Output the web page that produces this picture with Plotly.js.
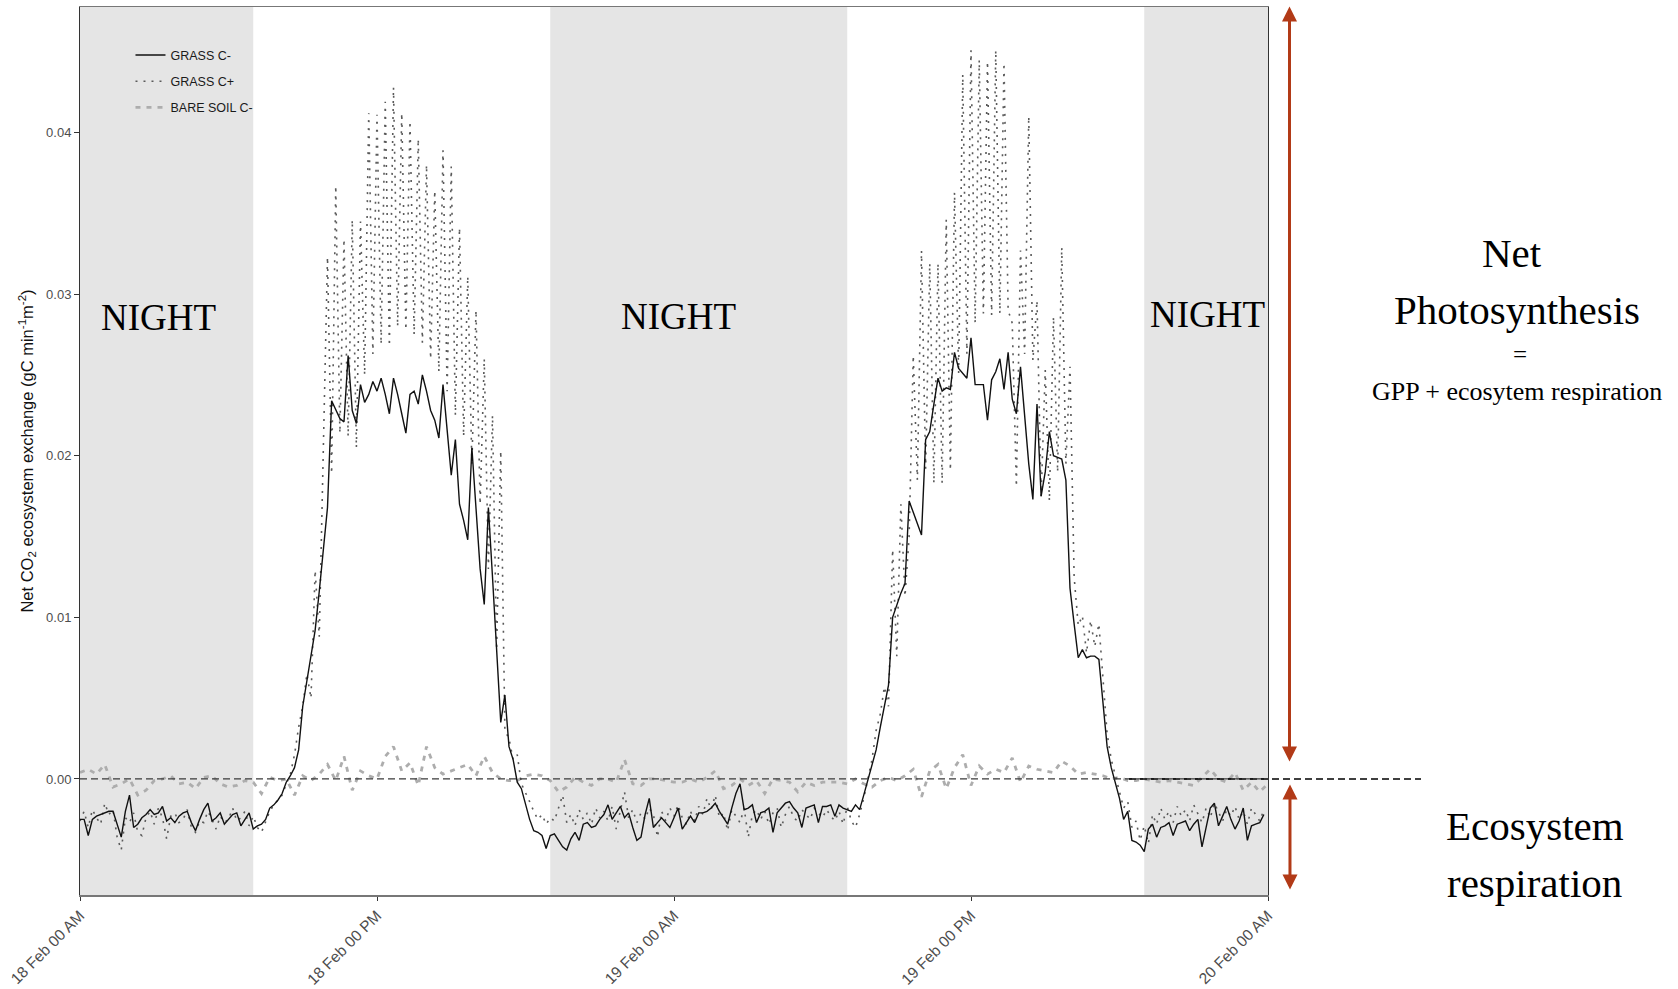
<!DOCTYPE html>
<html><head><meta charset="utf-8">
<script src="https://cdn.plot.ly/plotly-3.0.1.min.js"></script>
<style>html,body{margin:0;padding:0;background:#fff}#chart{width:1678px;height:989px}</style>
</head><body><div id="chart"></div>
<script>
// Time axis: minutes after 18 Feb 00:00. Grass chambers sampled every 10 min, bare soil every 20 min.
const grassStartMinute = 0;
const grassStepMinutes = 10;
const bareStartMinute = 0;
const bareStepMinutes = 20;

const grassCminus = [
-0.0025,-0.0025,-0.0035,-0.0025,-0.0023,-0.0022,-0.0021,-0.0020,-0.0020,-0.0028,
-0.0036,-0.0020,-0.0010,-0.0030,-0.0028,-0.0024,-0.0022,-0.0019,-0.0022,-0.0021,
-0.0017,-0.0026,-0.0024,-0.0027,-0.0023,-0.0021,-0.0020,-0.0027,-0.0032,-0.0025,
-0.0019,-0.0015,-0.0026,-0.0024,-0.0021,-0.0028,-0.0025,-0.0022,-0.0021,-0.0029,
-0.0025,-0.0021,-0.0031,
-0.0029,-0.0028,-0.0025,-0.0018,-0.0016,-0.0013,-0.0009,-0.0002,0.0002,0.0007,
0.0018,0.0045,0.0060,0.0075,0.0092,0.0116,0.0140,0.0168,0.0234,0.0228,
0.0223,0.0221,0.0262,0.0228,0.0220,0.0244,0.0233,0.0238,0.0246,0.0240,
0.0248,0.0238,0.0226,0.0248,0.0238,0.0226,0.0214,0.0238,0.0240,0.0232,
0.0250,0.0240,0.0228,0.0222,0.0211,0.0244,0.0215,0.0188,0.0210,0.0170,
0.0160,0.0148,0.0205,0.0165,0.0130,0.0108,0.0168,0.0125,0.0078,0.0035,
0.0052,0.0020,0.0012,-0.0002,-0.0006,-0.0015,-0.0025,-0.0032,-0.0033,-0.0035,
-0.0043,
-0.0035,-0.0034,-0.0038,-0.0042,-0.0044,-0.0037,-0.0033,-0.0038,-0.0028,-0.0027,
-0.0030,-0.0029,-0.0025,-0.0022,-0.0016,-0.0025,-0.0021,-0.0017,-0.0024,-0.0021,
-0.0030,-0.0038,-0.0036,-0.0022,-0.0012,-0.0030,-0.0027,-0.0024,-0.0027,-0.0030,
-0.0024,-0.0018,-0.0031,-0.0027,-0.0023,-0.0027,-0.0021,-0.0021,-0.0020,-0.0018,
-0.0015,-0.0020,-0.0024,-0.0028,-0.0018,-0.0009,-0.0003,-0.0019,-0.0018,-0.0016,
-0.0027,-0.0021,-0.0020,-0.0018,-0.0033,-0.0021,-0.0018,-0.0015,-0.0014,-0.0018,
-0.0021,-0.0030,-0.0018,-0.0017,-0.0016,-0.0027,-0.0017,-0.0017,-0.0016,-0.0023,
-0.0016,-0.0018,-0.0019,-0.0020,-0.0016,-0.0019,-0.0010,
-0.0001,0.0008,0.0018,0.0032,0.0045,0.0058,0.0100,0.0108,0.0115,0.0121,
0.0172,0.0165,0.0158,0.0151,0.0210,0.0215,0.0232,0.0248,0.0240,0.0242,
0.0241,0.0264,0.0254,0.0251,0.0248,0.0273,0.0244,0.0244,0.0244,0.0222,
0.0247,0.0252,0.0260,0.0241,0.0264,0.0235,0.0226,0.0255,0.0225,0.0195,
0.0173,0.0232,0.0175,0.0190,0.0215,0.0200,0.0199,0.0198,0.0185,0.0118,
0.0096,0.0075,0.0080,0.0075,0.0076,0.0076,0.0074,0.0045,0.0020,0.0007,
-0.0002,-0.0012,-0.0025,-0.0020,-0.0038,-0.0039,-0.0041,-0.0045,
-0.0031,-0.0028,-0.0036,-0.0030,-0.0029,-0.0027,-0.0035,-0.0028,-0.0027,-0.0026,
-0.0032,-0.0028,-0.0025,-0.0042,-0.0030,-0.0018,-0.0015,-0.0029,-0.0023,-0.0017,
-0.0025,-0.0031,-0.0026,-0.0018,-0.0038,-0.0029,-0.0028,-0.0027,-0.0022
];

const grassCplus = [
-0.0026,-0.0020,-0.0030,-0.0019,-0.0024,-0.0028,-0.0015,-0.0022,-0.0019,-0.0036,
-0.0044,-0.0024,-0.0027,-0.0021,-0.0033,-0.0035,-0.0024,-0.0020,-0.0028,-0.0018,
-0.0024,-0.0037,-0.0023,-0.0021,-0.0027,-0.0025,-0.0019,-0.0030,-0.0033,-0.0026,
-0.0027,-0.0020,-0.0025,-0.0031,-0.0023,-0.0027,-0.0025,-0.0018,-0.0026,-0.0024,
-0.0020,-0.0029,-0.0023,
-0.0030,-0.0033,-0.0027,-0.0020,-0.0016,-0.0013,-0.0010,-0.0003,0.0003,0.0015,
0.0032,0.0045,0.0065,0.0050,0.0129,0.0088,0.0197,0.0323,0.0189,0.0367,
0.0214,0.0334,0.0212,0.0346,0.0205,0.0345,0.0250,0.0412,0.0263,0.0411,
0.0269,0.0419,0.0268,0.0428,0.0280,0.0412,0.0278,0.0407,0.0275,0.0396,
0.0270,0.0380,0.0260,0.0364,0.0252,0.0389,0.0240,0.0379,0.0225,0.0341,
0.0212,0.0311,0.0195,0.0290,0.0170,0.0260,0.0130,0.0225,0.0080,0.0203,
0.0030,0.0025,0.0012,0.0015,-0.0003,-0.0008,-0.0014,-0.0020,-0.0025,-0.0022,
-0.0028,
-0.0024,-0.0026,-0.0018,-0.0010,-0.0027,-0.0022,-0.0029,-0.0019,-0.0025,-0.0021,
-0.0028,-0.0018,-0.0024,-0.0020,-0.0026,-0.0017,-0.0031,-0.0020,-0.0008,-0.0024,
-0.0019,-0.0027,-0.0021,-0.0025,-0.0018,-0.0022,-0.0036,-0.0020,-0.0026,-0.0018,
-0.0023,-0.0016,-0.0024,-0.0028,-0.0020,-0.0026,-0.0017,-0.0022,-0.0012,-0.0019,
-0.0010,-0.0024,-0.0021,-0.0032,-0.0019,-0.0023,-0.0027,-0.0018,-0.0036,-0.0022,
-0.0019,-0.0025,-0.0020,-0.0028,-0.0021,-0.0018,-0.0030,-0.0022,-0.0017,-0.0024,
-0.0026,-0.0019,-0.0022,-0.0025,-0.0018,-0.0021,-0.0024,-0.0019,-0.0023,-0.0026,
-0.0020,-0.0028,-0.0017,-0.0026,-0.0030,-0.0022,-0.0012,
0.0000,0.0012,0.0030,0.0040,0.0057,0.0045,0.0142,0.0076,0.0170,0.0113,
0.0150,0.0262,0.0185,0.0327,0.0192,0.0319,0.0183,0.0319,0.0183,0.0346,
0.0191,0.0363,0.0251,0.0436,0.0263,0.0451,0.0282,0.0445,0.0288,0.0444,
0.0287,0.0451,0.0288,0.0443,0.0290,0.0282,0.0181,0.0327,0.0263,0.0410,
0.0259,0.0296,0.0175,0.0253,0.0172,0.0286,0.0190,0.0329,0.0195,0.0255,
0.0125,0.0095,0.0101,0.0078,0.0098,0.0082,0.0096,0.0060,0.0028,0.0012,
0.0002,-0.0008,-0.0018,-0.0014,-0.0030,-0.0026,-0.0038,-0.0029,
-0.0040,-0.0022,-0.0028,-0.0018,-0.0025,-0.0020,-0.0027,-0.0017,-0.0023,-0.0019,
-0.0026,-0.0016,-0.0022,-0.0027,-0.0018,-0.0024,-0.0015,-0.0021,-0.0026,-0.0019,
-0.0023,-0.0017,-0.0025,-0.0020,-0.0028,-0.0018,-0.0022,-0.0026,-0.0019
];

const bareSoilCminus = [
0.0004,0.0006,0.0003,0.0009,-0.0005,-0.0003,0,-0.0010,-0.0007,-0.0001,
0,0.0002,-0.0003,-0.0002,-0.0006,0.0001,0.0002,-0.0003,-0.0005,-0.0004,
-0.0001,-0.0002,-0.0009,0.0001,-0.0001,0,-0.0010,0.0002,-0.0001,0.0003,
0.0009,-0.0001,0.0014,-0.0007,0.0005,0.0002,0,0.0014,0.0020,0.0005,
0.0010,-0.0004,0.0020,0.0007,0.0003,0.0005,0.0007,0.0009,0.0002,0.0014,
0.0004,0,-0.0001,-0.0001,0.0002,0.0003,0.0002,
-0.0001,-0.0008,-0.0005,0.0001,-0.0002,-0.0004,0,0,-0.0002,0.0012,
-0.0003,-0.0004,0,0,-0.0001,-0.0002,-0.0002,0,-0.0002,0.0001,
0.0005,-0.0006,-0.0004,0,-0.0004,-0.0001,-0.0009,0,-0.0001,-0.0002,
-0.0008,-0.0002,-0.0004,-0.0002,-0.0002,-0.0002,-0.0003,0,-0.0003,-0.0005,
-0.0001,0.0001,-0.0001,0.0002,0.0006,-0.0011,0.0005,0.0009,-0.0006,0.0007,
0.0015,-0.0004,0.0008,0.0003,0.0006,0.0004,0.0013,-0.0002,0.0008,0.0006,
0.0005,0.0004,0.0011,0.0008,0.0003,0.0004,0.0003,0.0002,0,0.0001,
-0.0001,-0.0001,0,-0.0001,-0.0002,-0.0001,-0.0002,-0.0003,-0.0004,0.0001,
0.0006,0,-0.0002,0.0004,-0.0007,-0.0002,-0.0008,-0.0003
];

const seriesNames = ['GRASS C-', 'GRASS C+', 'BARE SOIL C-'];
const tickMinutes = [0, 720, 1440, 2160, 2880];
const tickLabels = ['18 Feb 00 AM', '18 Feb 00 PM', '19 Feb 00 AM', '19 Feb 00 PM', '20 Feb 00 AM'];
const yTickValues = [0, 0.01, 0.02, 0.03, 0.04];
const yTickLabels = ['0.00', '0.01', '0.02', '0.03', '0.04'];
const nightStartMinutes = [0, 1140, 2580];
const nightEndMinutes = [420, 1860, 2880];
const zeroLevel = 0;

const sans = 'Liberation Sans, Arial, sans-serif';
const serif = 'Liberation Serif, Times New Roman, serif';
const arrowColor = '#b23a17';

const traces = [
  {type:'scatter', mode:'lines', name:seriesNames[2], x0:bareStartMinute, dx:bareStepMinutes, y:bareSoilCminus,
   line:{color:'#adadad', width:2.8, dash:'5px,6px'}, legendrank:3, legendgroup:'c', hoverinfo:'skip'},
  {type:'scatter', mode:'lines', name:seriesNames[1], x0:grassStartMinute, dx:grassStepMinutes, y:grassCplus,
   line:{color:'#5a5a5a', width:1.6, dash:'2px,6px'}, legendrank:2, legendgroup:'b', hoverinfo:'skip'},
  {type:'scatter', mode:'lines', name:seriesNames[0], x0:grassStartMinute, dx:grassStepMinutes, y:grassCminus,
   line:{color:'#111111', width:1.4}, legendrank:1, legendgroup:'a', hoverinfo:'skip'}
];

const shapes = [];
for (let k = 0; k < nightStartMinutes.length; k++) {
  shapes.push({type:'rect', xref:'x', yref:'paper', x0:nightStartMinutes[k], x1:nightEndMinutes[k], y0:0, y1:1,
    fillcolor:'#e5e5e5', line:{width:0}, layer:'below'});
}
shapes.push({type:'line', xref:'paper', yref:'y', x0:0, x1:1, y0:zeroLevel, y1:zeroLevel,
  line:{color:'#3a3a3a', width:1.3, dash:'7px,4px'}});
shapes.push({type:'line', xref:'paper', yref:'y', x0:0.883, x1:1.1288, y0:zeroLevel, y1:zeroLevel,
  line:{color:'#000000', width:1.6, dash:'7px,4px'}});

function label(text, x, y, size) {
  return {text:text, xref:'paper', yref:'paper', x:x, y:y, xanchor:'center', yanchor:'middle',
    showarrow:false, font:{family:serif, size:size, color:'#000'}};
}
function doubleArrow(x, y, ay) {
  return {text:' ', xref:'paper', yref:'paper', x:x, y:y, ax:0, ay:ay, showarrow:true,
   arrowhead:2, startarrowhead:2, arrowside:'end+start', arrowsize:1, startarrowsize:1, arrowwidth:3,
   arrowcolor:arrowColor, standoff:0, startstandoff:0, borderpad:0, font:{size:1, color:'rgba(0,0,0,0)'}};
}
const annotations = [
  label('NIGHT', 0.0657, 0.6498, 37),
  label('NIGHT', 0.5034, 0.6511, 37),
  label('NIGHT', 0.9487, 0.6536, 37),
  label('Net', 1.2051, 0.7234, 41),
  label('Photosynthesis', 1.2092, 0.6583, 41),
  label('=', 1.2119, 0.6090, 25),
  label('GPP + ecosytem respiration', 1.2092, 0.5668, 26),
  label('Ecosystem', 1.2245, 0.0775, 41),
  label('respiration', 1.2245, 0.0136, 41),
  doubleArrow(1.0181, 0.1503, -756),
  doubleArrow(1.0185, 0.0061, -106)
];

const layout = {
  width:1678, height:989,
  margin:{l:80, r:410, t:7, b:94},
  paper_bgcolor:'#ffffff', plot_bgcolor:'#ffffff',
  font:{family:sans, color:'#111'},
  showlegend:true,
  legend:{x:0.0425, y:0.9625, xanchor:'left', yanchor:'top', bgcolor:'rgba(0,0,0,0)',
    font:{family:sans, size:12.5, color:'#1a1a1a'}, traceorder:'grouped', tracegroupgap:7},
  xaxis:{range:[0, 2880], tickmode:'array', tickvals:tickMinutes, ticktext:tickLabels, tickangle:-45,
    ticks:'outside', ticklen:4, tickcolor:'#333', tickwidth:1,
    tickfont:{family:sans, size:15.5, color:'#4d4d4d'},
    showgrid:false, zeroline:false, showline:true, linecolor:'#777', linewidth:1.5, mirror:true},
  yaxis:{range:[-0.00718, 0.04777], tickmode:'array', tickvals:yTickValues, ticktext:yTickLabels,
    ticks:'outside', ticklen:5, tickcolor:'#333', tickwidth:1,
    tickfont:{family:sans, size:13, color:'#4d4d4d'},
    showgrid:false, zeroline:false, showline:true, linecolor:'#333', linewidth:1, mirror:true,
    title:{text:'Net CO<sub>2</sub> ecosystem exchange (gC min<sup>-1</sup>m<sup>-2</sup>)',
      font:{family:sans, size:16.5, color:'#111'}, standoff:8}},
  shapes:shapes,
  annotations:annotations
};

Plotly.newPlot('chart', traces, layout, {displayModeBar:false, staticPlot:true});
</script>
</body></html>
